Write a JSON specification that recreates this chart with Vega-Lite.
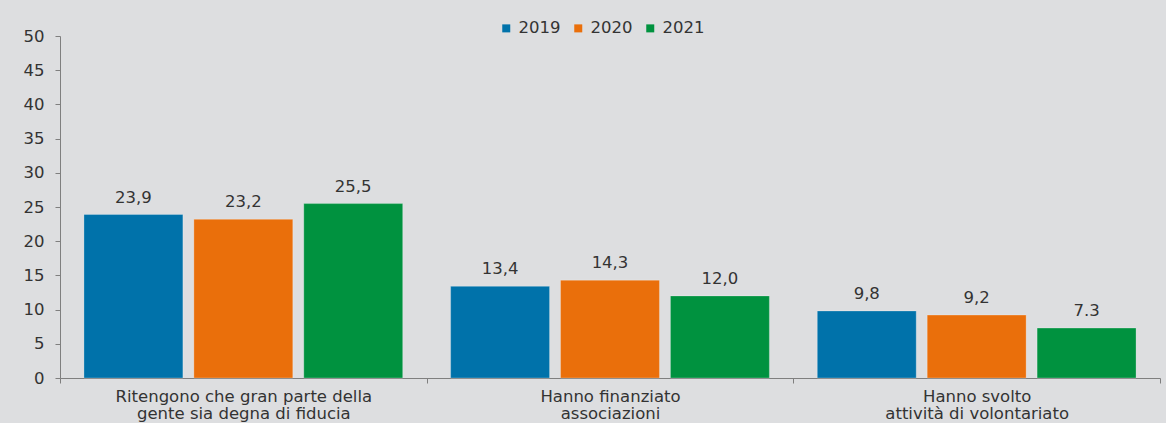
{
  "$schema": "https://vega.github.io/schema/vega-lite/v6.json",
  "width": 1100,
  "height": 342,
  "autosize": {"type": "none"},
  "padding": {"left": 60, "top": 36, "right": 6, "bottom": 45},
  "background": "#dddee0",
  "config": {
    "view": {"stroke": null},
    "font": "DejaVu Sans",
    "axis": {"labelColor": "#333333", "labelFont": "DejaVu Sans", "domainColor": "#7f7f7f", "tickColor": "#7f7f7f"}
  },
  "data": {
    "values": [
      {"categoria": "Ritengono che gran parte della|gente sia degna di fiducia", "anno": "2019", "valore": 23.9, "etichetta": "23,9"},
      {"categoria": "Ritengono che gran parte della|gente sia degna di fiducia", "anno": "2020", "valore": 23.2, "etichetta": "23,2"},
      {"categoria": "Ritengono che gran parte della|gente sia degna di fiducia", "anno": "2021", "valore": 25.5, "etichetta": "25,5"},
      {"categoria": "Hanno finanziato|associazioni", "anno": "2019", "valore": 13.4, "etichetta": "13,4"},
      {"categoria": "Hanno finanziato|associazioni", "anno": "2020", "valore": 14.3, "etichetta": "14,3"},
      {"categoria": "Hanno finanziato|associazioni", "anno": "2021", "valore": 12.0, "etichetta": "12,0"},
      {"categoria": "Hanno svolto|attività di volontariato", "anno": "2019", "valore": 9.8, "etichetta": "9,8"},
      {"categoria": "Hanno svolto|attività di volontariato", "anno": "2020", "valore": 9.2, "etichetta": "9,2"},
      {"categoria": "Hanno svolto|attività di volontariato", "anno": "2021", "valore": 7.3, "etichetta": "7.3"}
    ]
  },
  "encoding": {
    "x": {
      "field": "categoria", "type": "nominal", "sort": null,
      "scale": {"paddingInner": 0, "paddingOuter": 0},
      "axis": {
        "title": null, "labelAngle": 0, "labelFontSize": 16.5, "labelPadding": 5, "labelLimit": 0,
        "labelExpr": "split(datum.label, '|')", "labelLineHeight": 17,
        "tickBand": "extent", "tickSize": 5, "domainColor": "#7f7f7f"
      }
    },
    "xOffset": {"field": "anno", "type": "nominal", "scale": {"paddingInner": 0.1, "paddingOuter": 0.218}},
    "y": {
      "field": "valore", "type": "quantitative",
      "scale": {"domain": [0, 50], "nice": false},
      "axis": {"title": null, "values": [0, 5, 10, 15, 20, 25, 30, 35, 40, 45, 50], "grid": false, "labelFontSize": 16.5, "tickSize": 5, "labelPadding": 11}
    }
  },
  "layer": [
    {
      "mark": {"type": "bar", "stroke": "#ffffff", "strokeOpacity": 0.25, "strokeWidth": 1},
      "encoding": {
        "color": {
          "field": "anno", "type": "nominal",
          "scale": {"domain": ["2019", "2020", "2021"], "range": ["#0072AA", "#EA6F0B", "#00923F"]},
          "legend": {
            "title": null, "orient": "none", "direction": "horizontal",
            "legendX": 438, "legendY": -16,
            "symbolType": "square", "symbolSize": 64, "symbolStrokeWidth": 0,
            "labelFontSize": 16.5, "labelColor": "#333333", "columnPadding": 9, "labelOffset": 4
          }
        }
      }
    },
    {
      "mark": {"type": "text", "baseline": "alphabetic", "dy": -12, "fontSize": 16.5, "color": "#333333"},
      "encoding": {"text": {"field": "etichetta"}}
    }
  ]
}
